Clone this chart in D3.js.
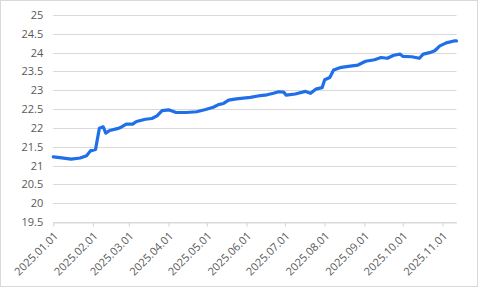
<!DOCTYPE html>
<html lang="en">
<head>
<meta charset="UTF-8"/>
<title>Line chart 2025</title>
<script src="https://d3js.org/d3.v7.min.js"></script>
<style>
  body { margin: 0; background: #fff; }
</style>
</head>
<body>
<div id="chart"></div>
<script>
// dates and values
var dates = ["2025-01-01","2025-01-06","2025-01-15","2025-01-22","2025-01-27","2025-01-30",
  "2025-02-03","2025-02-06","2025-02-09","2025-02-11","2025-02-14","2025-02-20","2025-02-23","2025-02-27",
  "2025-03-04","2025-03-07","2025-03-14","2025-03-19","2025-03-23","2025-03-27",
  "2025-04-01","2025-04-07","2025-04-15","2025-04-23","2025-04-30",
  "2025-05-06","2025-05-10","2025-05-14","2025-05-18","2025-05-24",
  "2025-06-04","2025-06-12","2025-06-17","2025-06-22","2025-06-26","2025-06-30",
  "2025-07-02","2025-07-09","2025-07-17","2025-07-21","2025-07-25","2025-07-30",
  "2025-08-01","2025-08-05","2025-08-08","2025-08-14","2025-08-21","2025-08-27",
  "2025-09-02","2025-09-09","2025-09-14","2025-09-19","2025-09-24","2025-09-29",
  "2025-10-01","2025-10-08","2025-10-14","2025-10-17","2025-10-22","2025-10-26","2025-10-30",
  "2025-11-04","2025-11-10","2025-11-12"];
var values = [21.23,21.21,21.17,21.20,21.26,21.39,
  21.43,21.99,22.03,21.86,21.93,21.98,22.02,22.10,
  22.10,22.17,22.23,22.25,22.32,22.46,
  22.48,22.41,22.41,22.43,22.49,
  22.55,22.62,22.65,22.74,22.77,
  22.81,22.86,22.88,22.92,22.96,22.95,
  22.87,22.90,22.97,22.92,23.03,23.07,
  23.28,23.34,23.54,23.61,23.64,23.67,
  23.77,23.81,23.87,23.85,23.93,23.96,
  23.90,23.89,23.85,23.96,24.00,24.05,24.18,
  24.26,24.31,24.31];
var monthTicks = ["2025-01-01","2025-02-01","2025-03-01","2025-04-01","2025-05-01","2025-06-01",
  "2025-07-01","2025-08-01","2025-09-01","2025-10-01","2025-11-01"];
var yTicks = [19.5,20,20.5,21,21.5,22,22.5,23,23.5,24,24.5,25];

var w = 481, h = 288;
var padLeft = 53.3, padRight = 456.5, padTop = 15, padBottom = 222;

var parse = d3.timeParse("%Y-%m-%d");
var fmt = d3.timeFormat("%Y.%m.%d");
var data = dates.map(function(d, i){ return {date: parse(d), value: values[i]}; });

var svg = d3.select("#chart").append("svg")
    .attr("width", w)
    .attr("height", h);

svg.append("rect")
    .attr("x", 0.5).attr("y", 0.5)
    .attr("width", 477).attr("height", 286)
    .attr("fill", "#fff")
    .attr("stroke", "#d9d9d9");

var xScale = d3.scaleTime()
    .domain([data[0].date, data[data.length-1].date])
    .range([padLeft, padRight]);

var yScale = d3.scaleLinear()
    .domain([19.5, 25])
    .range([padBottom, padTop]);

//gridlines
svg.append("g")
    .selectAll("line")
    .data(yTicks)
    .enter()
    .append("line")
    .attr("x1", padLeft)
    .attr("x2", padRight)
    .attr("y1", function(d){ return Math.round(yScale(d)) + 0.5; })
    .attr("y2", function(d){ return Math.round(yScale(d)) + 0.5; })
    .attr("stroke", "#d9d9d9")
    .attr("stroke-width", 1.2);

//y axis labels
var yAxis = d3.axisLeft(yScale)
    .tickValues(yTicks)
    .tickSize(0)
    .tickPadding(10)
    .tickFormat(function(d){ return d; });

var gy = svg.append("g")
    .attr("transform", "translate(" + padLeft + ",0)")
    .call(yAxis);
gy.select(".domain").remove();
gy.selectAll("text").attr("font-size", "11px").attr("fill", "#595959")
    .style("font-family", "'Open Sans', sans-serif");

//x axis
var xAxis = d3.axisBottom(xScale)
    .tickValues(monthTicks.map(parse))
    .tickSize(4)
    .tickSizeOuter(0)
    .tickFormat(fmt);

var gx = svg.append("g")
    .attr("transform", "translate(0," + (Math.round(padBottom) + 0.5) + ")")
    .call(xAxis);
gx.select(".domain").attr("stroke", "#d9d9d9").attr("stroke-width", 1.2);
gx.selectAll(".tick line").attr("stroke", "#d9d9d9").attr("stroke-width", 1.2);
gx.selectAll("text")
    .attr("font-size", "11px")
    .attr("fill", "#595959")
    .style("font-family", "'Open Sans', sans-serif")
    .attr("text-anchor", "end")
    .attr("dy", null)
    .attr("y", 0)
    .attr("transform", "translate(5,14) rotate(-45)");

//line
var line = d3.line()
    .x(function(d){ return xScale(d.date); })
    .y(function(d){ return yScale(d.value); });

svg.append("path")
    .datum(data)
    .attr("d", line)
    .attr("fill", "none")
    .attr("stroke", "#1f6fe8")
    .attr("stroke-width", 3.2)
    .attr("stroke-linejoin", "round")
    .attr("stroke-linecap", "round");
</script>
</body>
</html>
